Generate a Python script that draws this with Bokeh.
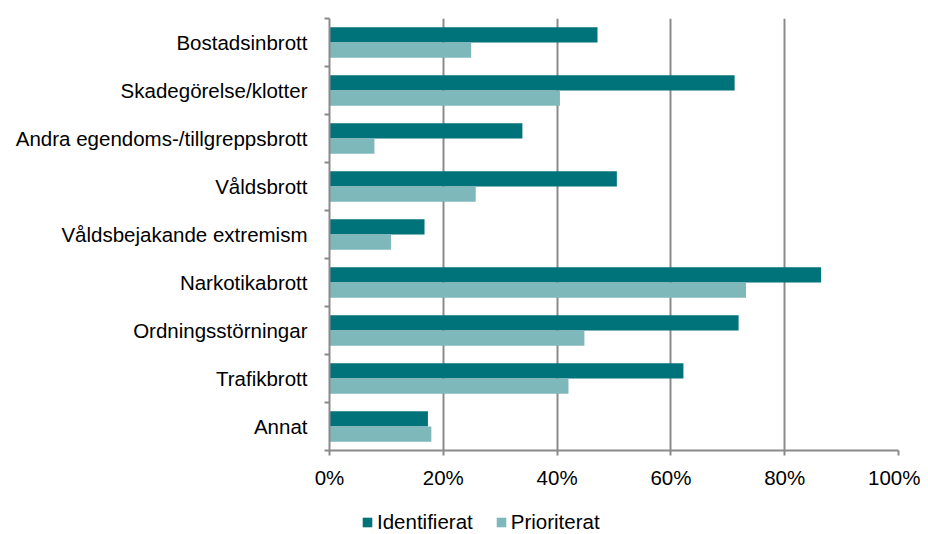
from bokeh.plotting import figure
from bokeh.layouts import column
from bokeh.models import (Range1d, FixedTicker, Legend, LegendItem, ColumnDataSource,
                          PrintfTickFormatter)
from bokeh.transform import dodge
from bokeh.embed import file_html
from bokeh.resources import INLINE

categories = ["Bostadsinbrott", "Skadegörelse/klotter", "Andra egendoms-/tillgreppsbrott",
              "Våldsbrott", "Våldsbejakande extremism", "Narkotikabrott",
              "Ordningsstörningar", "Trafikbrott", "Annat"]
identifierat = [47.1, 71.2, 33.9, 50.5, 16.7, 86.4, 71.9, 62.2, 17.3]
prioriterat = [24.9, 40.5, 7.9, 25.7, 10.8, 73.2, 44.8, 42.0, 17.9]
x_ticks = [0, 20, 40, 60, 80, 100]
series_names = ["Identifierat", "Prioriterat"]

n = len(categories)
pos = [n - 1 - i for i in range(n)]
src = ColumnDataSource(dict(pos=pos, cat=categories, ident=identifierat, prio=prioriterat))

FONT = "Liberation Sans"
FS = "20.5px"
GRAY = "#8a8a8a"
DARK = "#00737a"
LIGHT = "#7fb8bb"

p = figure(width=920, height=500, output_backend="svg", toolbar_location=None,
           x_range=Range1d(0, 100), y_range=Range1d(-0.5, n - 0.5),
           min_border_left=329, min_border_right=22, min_border_top=18, min_border_bottom=50)
p.outline_line_color = None
p.background_fill_color = "white"

r1 = p.hbar(y=dodge("pos", 0.16), right="ident", left=0, height=0.32, source=src,
            fill_color=DARK, line_color=None)
r2 = p.hbar(y=dodge("pos", -0.16), right="prio", left=0, height=0.32, source=src,
            fill_color=LIGHT, line_color=None)

# x axis
p.xaxis.ticker = FixedTicker(ticks=x_ticks)
p.xaxis.formatter = PrintfTickFormatter(format="%d%%")
p.xaxis.axis_line_color = GRAY
p.xaxis.axis_line_width = 2
p.xaxis.major_tick_line_color = GRAY
p.xaxis.major_tick_line_width = 2
p.xaxis.major_tick_out = 5
p.xaxis.major_tick_in = 0
p.xaxis.minor_tick_line_color = None
p.xaxis.major_label_text_font = FONT
p.xaxis.major_label_text_font_size = FS
p.xaxis.major_label_text_color = "#000000"
p.xaxis.major_label_standoff = 10

# y axis
p.yaxis.ticker = FixedTicker(ticks=pos, minor_ticks=[k - 0.5 for k in range(n + 1)])
p.yaxis.major_label_overrides = {pv: c for pv, c in zip(pos, categories)}
p.yaxis.axis_line_color = GRAY
p.yaxis.axis_line_width = 2
p.yaxis.major_tick_line_color = None
p.yaxis.major_tick_out = 0
p.yaxis.major_tick_in = 0
p.yaxis.minor_tick_line_color = GRAY
p.yaxis.minor_tick_line_width = 2
p.yaxis.minor_tick_out = 5
p.yaxis.minor_tick_in = 0
p.yaxis.major_label_text_font = FONT
p.yaxis.major_label_text_font_size = FS
p.yaxis.major_label_text_color = "#000000"
p.yaxis.major_label_standoff = 17

p.xgrid.ticker = FixedTicker(ticks=x_ticks)
p.xgrid.grid_line_color = GRAY
p.xgrid.grid_line_width = 2
p.ygrid.grid_line_color = None

# legend strip below the chart (its frame is aligned with the chart frame by the column)
lg = figure(width=920, height=34, output_backend="svg", toolbar_location=None,
            x_range=Range1d(0, 100), y_range=Range1d(1000, 1001),
            x_axis_location=None, y_axis_location=None,
            min_border_left=0, min_border_right=0, min_border_top=0, min_border_bottom=0)
lg.outline_line_color = None
lg.xgrid.visible = False
lg.ygrid.visible = False
# proxies for the legend swatches (their data lies outside this strip's view)
d1 = lg.hbar(y="pos", right="ident", left=0, height=0.32, source=src,
             fill_color=DARK, line_color=None)
d2 = lg.hbar(y="pos", right="prio", left=0, height=0.32, source=src,
             fill_color=LIGHT, line_color=None)
legend = Legend(items=[LegendItem(label=series_names[0], renderers=[d1]),
                       LegendItem(label=series_names[1], renderers=[d2])],
                location=(32, 0), orientation="horizontal",
                glyph_width=12, glyph_height=12, label_standoff=4, spacing=22,
                padding=0, margin=0, border_line_color=None, background_fill_alpha=0,
                label_text_font=FONT, label_text_font_size=FS, label_text_color="#000000")
lg.add_layout(legend, "center")

layout = column(p, lg, spacing=0)
open("out.html", "w").write(file_html(layout, INLINE))
